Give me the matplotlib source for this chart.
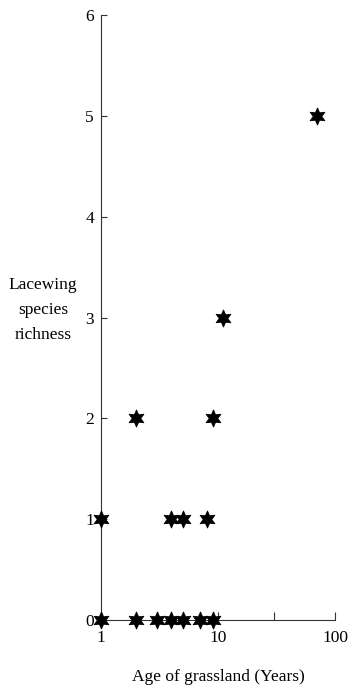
import matplotlib
matplotlib.use("Agg")
import matplotlib.pyplot as plt

# Grassland age (years) and lacewing species richness per site
age_years = [1, 2, 3, 4, 5, 7, 9, 1, 4, 5, 8, 2, 9, 11, 70]
richness = [0, 0, 0, 0, 0, 0, 0, 1, 1, 1, 1, 2, 2, 3, 5]

x_ticks = [1, 10, 30, 100]
x_tick_labels = ["1", "10", "", "100"]
y_ticks = [0, 1, 2, 3, 4, 5, 6]

plt.rcParams["font.family"] = ["Liberation Serif", "DejaVu Serif"]

W, H = 349, 693
fig = plt.figure(figsize=(W / 100, H / 100), dpi=100)
ax = fig.add_axes([101 / W, (H - 620) / H, (335 - 101) / W, (620 - 15) / H])

ax.scatter(age_years, richness, marker=(6, 1, 0), s=150, color="black",
           linewidths=0.6, edgecolors="black", clip_on=False, zorder=3)

ax.set_xscale("log")
ax.set_xlim(1, 100)
ax.set_ylim(0, 6)
ax.set_xticks(x_ticks)
ax.set_xticklabels(x_tick_labels)
ax.xaxis.set_minor_locator(matplotlib.ticker.NullLocator())
ax.set_yticks(y_ticks)

for side in ("top", "right"):
    ax.spines[side].set_visible(False)
for side in ("left", "bottom"):
    ax.spines[side].set_linewidth(0.8)
    ax.spines[side].set_color("#333333")

ax.tick_params(axis="x", direction="in", length=6, width=0.8, pad=7,
               labelsize=12.5, color="#333333")
ax.tick_params(axis="y", direction="in", length=4, width=0.8, pad=5,
               labelsize=12.5, color="#333333")

ax.set_xlabel("Age of grassland (Years)", fontsize=12.5, labelpad=17)
fig.text(43 / W, 1 - 310 / H, "Lacewing\nspecies\nrichness", ha="center",
         va="center", fontsize=12.5, linespacing=1.75)

fig.savefig("out.png", dpi=100)
